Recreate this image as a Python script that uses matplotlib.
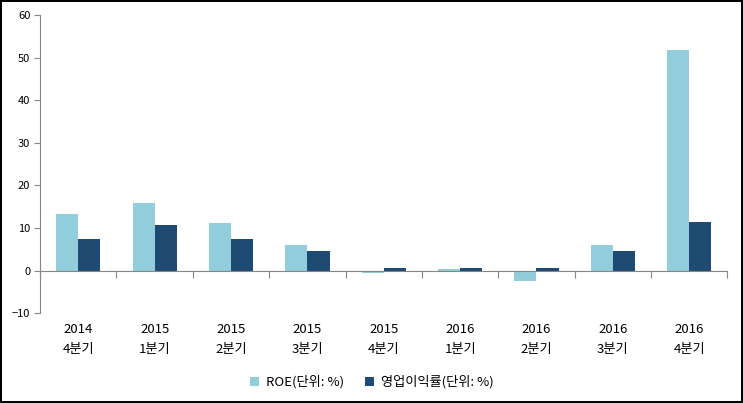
import matplotlib.pyplot as plt
import numpy as np

plt.rcParams['font.family'] = ['Noto Sans CJK KR', 'DejaVu Sans']

# 분기 라벨
years = ['2014', '2015', '2015', '2015', '2015', '2016', '2016', '2016', '2016']
quarters = ['4분기', '1분기', '2분기', '3분기', '4분기', '1분기', '2분기', '3분기', '4분기']

# 값 (단위: %)
roe = [13.2, 15.8, 11.1, 6.1, -0.6, 0.3, -2.5, 5.9, 51.8]
op_margin = [7.3, 10.6, 7.3, 4.5, 0.7, 0.7, 0.7, 4.7, 11.3]

labels = [f"{y}\n{q}" for y, q in zip(years, quarters)]


def plot_chart():
    fig = plt.figure(figsize=(7.43, 4.03), dpi=100)
    fig.patch.set_edgecolor('black')
    fig.patch.set_linewidth(1.5)
    ax = fig.add_axes([0.054, 0.223, 0.925, 0.74])

    x = np.arange(len(labels))
    w = 0.29
    axis_color = '#868686'

    ax.bar(x - w / 2, roe, w, color='#92CDDC', label='ROE(단위: %)')
    ax.bar(x + w / 2, op_margin, w, color='#1F4A72', label='영업이익률(단위: %)')

    ax.set_xlim(-0.5, len(labels) - 0.5)
    ax.set_ylim(-10, 60)
    ax.set_yticks(np.arange(-10, 61, 10))
    ax.tick_params(axis='y', labelsize=8, length=4, color=axis_color, pad=3)

    # 0 위치의 x축 + 구간 경계 눈금
    ax.spines['bottom'].set_position(('data', 0))
    ax.spines['bottom'].set_color(axis_color)
    ax.spines['left'].set_color(axis_color)
    ax.spines['top'].set_visible(False)
    ax.spines['right'].set_visible(False)
    ax.set_xticks(np.arange(-0.5, len(labels), 1))
    ax.set_xticklabels([])
    ax.tick_params(axis='x', length=5, color=axis_color, direction='out')

    # 카테고리 라벨은 축 아래쪽에
    sec = ax.secondary_xaxis(0)
    sec.set_xticks(x)
    sec.set_xticklabels(labels, fontsize=9.5, linespacing=1.7)
    sec.tick_params(length=0, pad=7)
    sec.spines['bottom'].set_visible(False)

    fig.legend(loc='center', bbox_to_anchor=(0.5, 0.052), ncol=2, frameon=False,
               fontsize=9.5, handlelength=0.7, handleheight=0.7, columnspacing=1.6,
               handletextpad=0.5)

    fig.savefig('out.png', dpi=100, edgecolor=fig.get_edgecolor())


if __name__ == "__main__":
    plot_chart()
